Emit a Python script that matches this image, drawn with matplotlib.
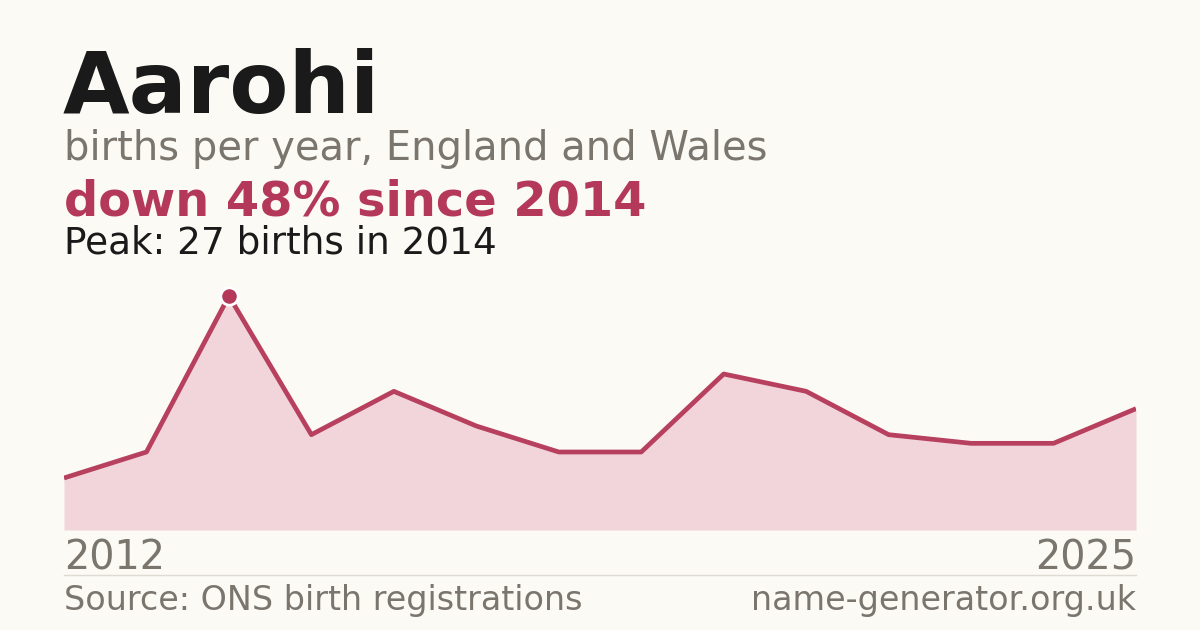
import matplotlib
matplotlib.use("Agg")
import matplotlib.pyplot as plt

# data
years = list(range(2012, 2026))
births = [6, 9, 27, 11, 16, 12, 9, 9, 18, 16, 11, 10, 10, 14]
name = "Aarohi"
subtitle = "births per year, England and Wales"
headline = "down 48% since 2014"
peak_note = "Peak: 27 births in 2014"
source = "Source: ONS birth registrations"
site = "name-generator.org.uk"

bg = "#fbfaf5"
red = "#b3385a"
fill = "#f2d5da"
grey = "#7a756d"

plt.rcParams['font.family'] = ['DejaVu Sans']

W, H = 1200, 630
fig = plt.figure(figsize=(W / 100, H / 100), dpi=100, facecolor=bg)

def fx(px):
    return px / W

def fy(py):
    return 1 - py / H

# plot area: x 64..1136, baseline at 530, peak at 296
ax = fig.add_axes([fx(64), fy(530), fx(1136 - 64), fy(296) - fy(530)])
ax.set_facecolor(bg)
ax.fill_between(years, births, 0, color=fill, lw=0)
ax.plot(years, births, color="#b8405f", lw=3.4, solid_joinstyle='round', solid_capstyle='butt')
pk = births.index(max(births))
ax.plot(years[pk], births[pk], 'o', ms=12.5, color=red, mec='white', mew=2, clip_on=False, zorder=5)
ax.set_xlim(years[0], years[-1])
ax.set_ylim(0, max(births))
ax.axis('off')

# texts
fig.text(fx(63), fy(113), name, fontsize=62, fontweight='bold', color="#1a1a1a", va='baseline')
fig.text(fx(64), fy(160), subtitle, fontsize=28.8, color=grey, va='baseline')
fig.text(fx(64), fy(215), headline, fontsize=34.5, fontweight='bold', color=red, va='baseline')
fig.text(fx(64), fy(254), peak_note, fontsize=26.9, color="#1a1a1a", va='baseline')

fig.text(fx(64), fy(570), str(years[0]), fontsize=28.6, color=grey, va='baseline')
fig.text(fx(1136), fy(570), str(years[-1]), fontsize=28.6, color=grey, va='baseline', ha='right')

fig.add_artist(plt.Line2D([fx(64), fx(1136)], [fy(574.5), fy(574.5)], color="#dedbd3", lw=1))

fig.text(fx(64), fy(610), source, fontsize=24, color=grey, va='baseline')
fig.text(fx(1136), fy(610), site, fontsize=24, color=grey, va='baseline', ha='right')

fig.savefig("out.png", dpi=100, facecolor=bg)
